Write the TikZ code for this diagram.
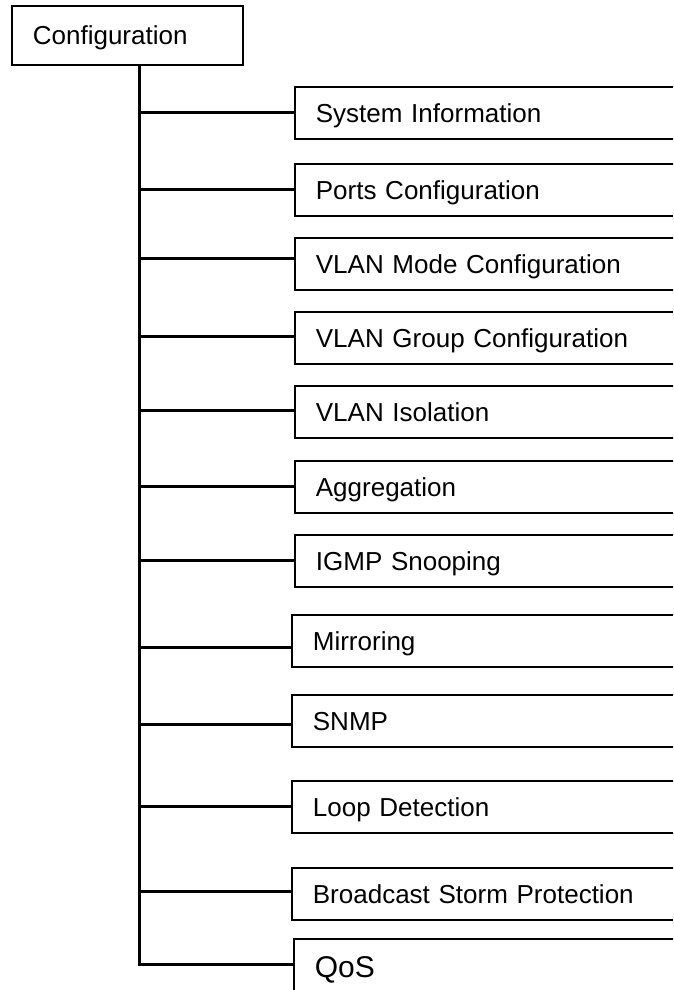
\documentclass[tikz,border=0pt]{standalone}
\usepackage{fontspec}
\setmainfont{Liberation Sans}
\begin{document}
\begin{tikzpicture}[x=1pt,y=-1pt,
  box/.style={draw, line width=1.8pt, rectangle, anchor=north west,
    minimum height=52pt, text width=364pt, align=left,
    inner xsep=21pt, inner ysep=0pt, text height=19pt, text depth=0pt,
    font=\fontsize{26}{30}\selectfont},
  rootbox/.style={box, text width=189pt, minimum height=59pt},
  conn/.style={line width=3pt, line join=miter}]
\useasboundingbox (0,0) rectangle (673,990);
\clip (0,0) rectangle (673,990);
\fill[white] (0,0) rectangle (673,990);
% root
\node[rootbox] (cfg) at (11,5) {Configuration};
% children
\node[box] (b1) at (294,86) {System Information};
\node[box] (b2) at (294,163) {Ports Configuration};
\node[box] (b3) at (294,237) {VLAN Mode Configuration};
\node[box] (b4) at (294,311) {VLAN Group Configuration};
\node[box] (b5) at (294,385) {VLAN Isolation};
\node[box] (b6) at (294,460) {Aggregation};
\node[box] (b7) at (294,534) {IGMP Snooping};
\node[box] (b8) at (291,614) {Mirroring};
\node[box] (b9) at (291,694) {SNMP};
\node[box] (b10) at (291,780) {Loop Detection};
\node[box] (b11) at (291,867) {Broadcast Storm Protection};
\node[box, minimum height=56pt, text height=21pt, font=\fontsize{30}{34}\selectfont] (b12) at (293,938) {QoS};
% trunk
\coordinate (ttop) at (139,64);
\coordinate (tbot) at (139,964);
\coordinate (c1) at (139,112);
\coordinate (c2) at (139,189);
\coordinate (c3) at (139,258);
\coordinate (c4) at (139,336);
\coordinate (c5) at (139,410);
\coordinate (c6) at (139,486);
\coordinate (c7) at (139,560);
\coordinate (c8) at (139,647);
\coordinate (c9) at (139,724);
\coordinate (c10) at (139,806);
\coordinate (c11) at (139,891);
\draw[conn] (ttop) -- (tbot) -- (tbot -| b12.west);
\foreach \i in {1,...,11} {
  \draw[conn] (c\i) -- (c\i -| b\i.west);
}
\end{tikzpicture}
\end{document}
